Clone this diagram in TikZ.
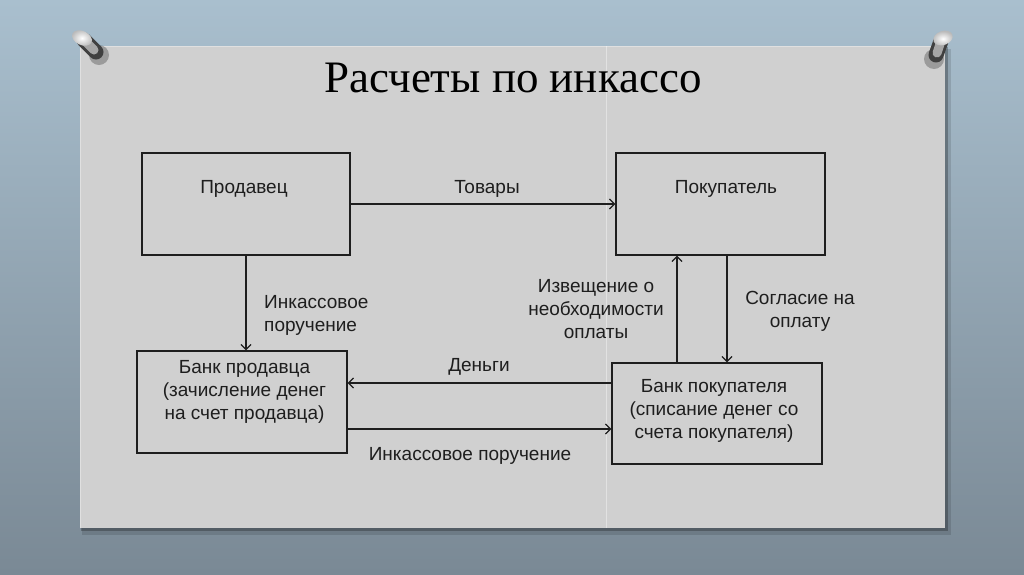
\documentclass[tikz,border=0pt]{standalone}
\usepackage{fontspec}
\setmainfont{Liberation Sans}
\newfontfamily\titlefont{Liberation Serif}
\usetikzlibrary{arrows.meta}

\definecolor{wallTop}{HTML}{A9BFCE}
\definecolor{wallBottom}{HTML}{7A8995}
\definecolor{sheet}{HTML}{D0D0D0}
\definecolor{ink}{HTML}{1E1E1E}

\begin{document}
\begin{tikzpicture}[x=1pt, y=-1pt,
    box/.style={draw=ink, line width=1.4pt, minimum height=102pt, inner sep=0pt},
    txt/.style={font=\fontsize{19}{23}\selectfont, text=ink, align=center, inner sep=0pt},
    flow/.style={draw=ink, line width=1.2pt, -{Straight Barb[length=5pt, width=10pt]}}]
    \useasboundingbox (0,0) rectangle (1024,574);
    % wall and slide
    \shade[top color=wallTop, bottom color=wallBottom] (0,0) rectangle (1024,574);
    \fill[black, opacity=0.12] (82,49) rectangle (951,535);
    \fill[black, opacity=0.25] (81,47) rectangle (948,531);
    \fill[sheet] (80,46) rectangle (945,528);
    \draw[white, opacity=0.35, line width=1pt] (80.5,528) -- (80.5,46.5) -- (945,46.5);
    \draw[white, opacity=0.4, line width=1pt] (606.5,46) -- (606.5,528);
    % pins
    \fill[black, opacity=0.25] (99,55) circle (10);
    \draw[gray!50!black, line width=15pt, line cap=round] (84,40) -- (96,52);
    \draw[gray!70, line width=9pt, line cap=round] (84,40) -- (94,50);
    \shade[inner color=white, outer color=gray!55, rotate around={-25:(82,38)}] (82,38) ellipse (10.5 and 7);
    \fill[black, opacity=0.25] (934,59) circle (10);
    \draw[gray!50!black, line width=15pt, line cap=round] (941,41) -- (936,55);
    \draw[gray!70, line width=9pt, line cap=round] (941,41) -- (937,53);
    \shade[inner color=white, outer color=gray!55, rotate around={20:(943,38)}] (943,38) ellipse (10 and 7);
    % title
    \node[font=\titlefont\fontsize{45}{54}\selectfont, text=black, anchor=base, inner sep=0pt] (title) at (513,92) {Расчеты по инкассо};
    % boxes
    \node[box, minimum width=208pt] (seller) at (246,204) {};
    \node[box, minimum width=209pt] (buyer) at (720.5,204) {};
    \node[box, minimum width=210pt] (sbank) at (242,402) {};
    \node[box, minimum width=210pt, minimum height=101pt] (bbank) at (717,413.5) {};
    \node[txt, anchor=base] (sellerT) at (244,193) {Продавец};
    \node[txt, anchor=base] (buyerT) at (726,193) {Покупатель};
    \node[txt, anchor=north] (sbankT) at (244.5,360) {Банк продавца\\(зачисление денег\\на счет продавца)};
    \node[txt, anchor=north] (bbankT) at (714,379) {Банк покупателя\\(списание денег со\\счета покупателя)};
    % flows
    \draw[flow] (seller.east) -- (buyer.west);
    \draw[flow] (seller.south) -- (seller.south |- sbank.north);
    \draw[flow] ([yshift=30.5pt]bbank.west) -- ([yshift=30.5pt]bbank.west -| sbank.east);
    \draw[flow] ([yshift=-27pt]sbank.east) -- ([yshift=-27pt]sbank.east -| bbank.west);
    \draw[flow] ([xshift=-40pt]bbank.north) -- ([xshift=-40pt]bbank.north |- buyer.south);
    \draw[flow] ([xshift=6.5pt]buyer.south) -- ([xshift=6.5pt]buyer.south |- bbank.north);
    % flow labels
    \node[txt, anchor=base] (goodsT) at (487,193) {Товары};
    \node[txt, align=left, anchor=north west] (orderT) at (264,295) {Инкассовое\\поручение};
    \node[txt, anchor=base] (moneyT) at (479,371) {Деньги};
    \node[txt, anchor=base] (order2T) at (470,460) {Инкассовое поручение};
    \node[txt, anchor=north] (noticeT) at (596,279) {Извещение о\\необходимости\\оплаты};
    \node[txt, anchor=north] (consentT) at (800,291) {Согласие на\\оплату};
\end{tikzpicture}
\end{document}
